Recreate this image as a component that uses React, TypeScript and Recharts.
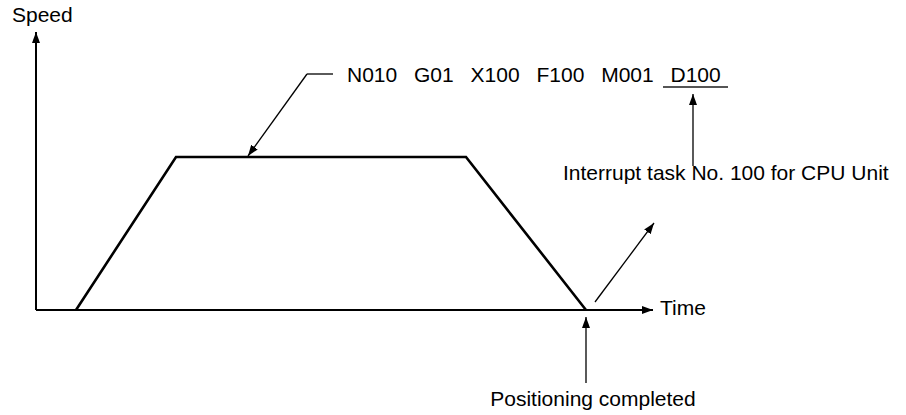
import React from "react";
import { Line, LineChart, ReferenceDot, ReferenceLine, XAxis, YAxis } from "recharts";

// speed profile (trapezoid) in chart units: time vs speed
const profileTime = [40, 140, 430, 550];
const profileSpeed = [0, 153, 153, 0];

// drawing extent, same units as the data
const TIME_MIN = -36;
const TIME_MAX = 870;
const SPEED_MIN = -105;
const SPEED_MAX = 310;

const axisTimeEnd = 617;
const axisSpeedEnd = 278;

const commandText = "N010 G01 X100 F100 M001 D100";
const interruptText = "Interrupt task No. 100 for CPU Unit";
const doneText = "Positioning completed";

const FONT = "'Liberation Sans', Arial, Helvetica, sans-serif";

type Seg = { from: [number, number]; to: [number, number]; w: number; color?: string; arrow?: boolean };

const arrows: Seg[] = [
  { from: [0, 0], to: [0, axisSpeedEnd], w: 2, arrow: true },
  { from: [0, 0], to: [axisTimeEnd, 0], w: 2, arrow: true },
  { from: [271, 236], to: [297, 236], w: 1.3 },
  { from: [271, 236], to: [212, 154], w: 1.3, arrow: true },
  { from: [627, 223], to: [692, 223], w: 2, color: "#555" },
  { from: [657, 144], to: [657, 216], w: 1.3, arrow: true },
  { from: [559, 8], to: [618, 87], w: 1.3, arrow: true },
  { from: [550, -73], to: [550, -7], w: 1.3, arrow: true },
];

type Lbl = { t: number; v: number; text: string; anchor?: "start" | "middle"; spacing?: number };

const labels: Lbl[] = [
  { t: -24, v: 288, text: "Speed" },
  { t: 311, v: 228, text: commandText, spacing: 11 },
  { t: 527, v: 130, text: interruptText },
  { t: 624, v: -5, text: "Time" },
  { t: 557, v: -96, text: doneText, anchor: "middle" },
];

const data = profileTime.map((t, i) => ({ time: t, speed: profileSpeed[i] }));

export default function App() {
  return (
    <div style={{ position: "relative", width: 906, height: 415, background: "#fff" }}>
      <style>{`body{margin:0}`}</style>
      <svg width={0} height={0} style={{ position: "absolute" }}>
        <defs>
          <marker
            id="arrowHead"
            markerUnits="userSpaceOnUse"
            markerWidth={11}
            markerHeight={8}
            refX={11}
            refY={4}
            orient="auto"
          >
            <path d="M0,0 L11,4 L0,8 z" fill="#000" />
          </marker>
        </defs>
      </svg>
      <LineChart width={906} height={415} data={data} margin={{ top: 0, right: 0, bottom: 0, left: 0 }}>
        <XAxis dataKey="time" type="number" domain={[TIME_MIN, TIME_MAX]} allowDataOverflow hide />
        <YAxis type="number" domain={[SPEED_MIN, SPEED_MAX]} allowDataOverflow hide />
        {arrows.map((a, i) => (
          <ReferenceLine
            key={i}
            segment={[
              { x: a.from[0], y: a.from[1] },
              { x: a.to[0], y: a.to[1] },
            ]}
            ifOverflow="visible"
            shape={(p: any) => (
              <line
                x1={p.x1}
                y1={p.y1}
                x2={p.x2}
                y2={p.y2}
                stroke={a.color ?? "#000"}
                strokeWidth={a.w}
                markerEnd={a.arrow ? "url(#arrowHead)" : undefined}
              />
            )}
          />
        ))}
        <Line
          type="linear"
          dataKey="speed"
          stroke="#000"
          strokeWidth={2.6}
          strokeLinejoin="miter"
          strokeLinecap="butt"
          dot={false}
          activeDot={false}
          isAnimationActive={false}
        />
        {labels.map((l, i) => (
          <ReferenceDot
            key={"l" + i}
            x={l.t}
            y={l.v}
            r={0}
            ifOverflow="visible"
            shape={(p: any) => (
              <text
                x={p.cx}
                y={p.cy}
                textAnchor={l.anchor ?? "start"}
                fontFamily={FONT}
                fontSize={21}
                fill="#000"
                style={{ wordSpacing: l.spacing ?? 0 }}
              >
                {l.text}
              </text>
            )}
          />
        ))}
      </LineChart>
    </div>
  );
}
